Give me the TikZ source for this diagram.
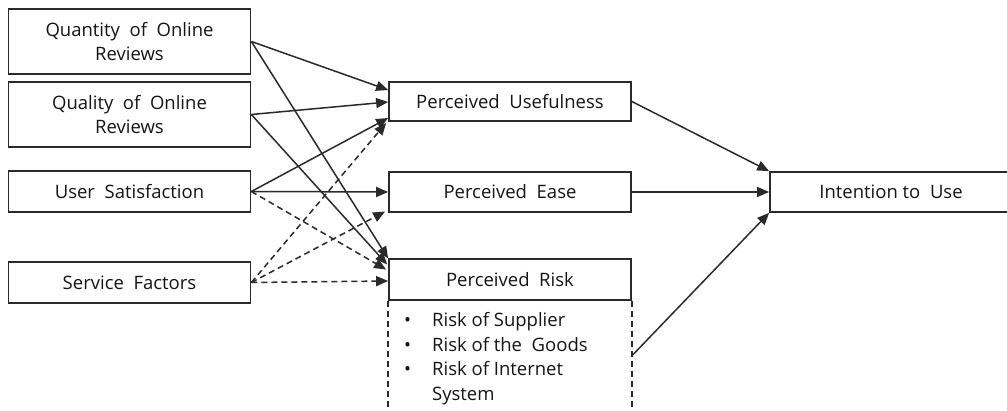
\documentclass[tikz,border=0pt]{standalone}
\usepackage{fontspec}
\setmainfont{Open Sans}
\usetikzlibrary{arrows.meta,calc}
\definecolor{ink}{HTML}{141414}
\definecolor{edge}{HTML}{2A2A2A}
\begin{document}
\begin{tikzpicture}[x=1pt,y=-1pt,
  font=\fontsize{18.5}{24.5}\selectfont, text=ink,
  box/.style={draw=edge, line width=1.7pt, rectangle, inner sep=0pt, align=center,
              minimum width=242pt},
  arr/.style={draw=edge, line width=1.5pt, -{Triangle[length=12pt,width=10pt]}},
  darr/.style={arr, dash pattern=on 6pt off 4pt},
  frame/.style={draw=edge, line width=1.5pt, dash pattern=on 6pt off 4pt}]
\useasboundingbox (0,0) rectangle (1007,411);

% antecedents
\node[box, minimum height=65pt] (qn) at (129.5,41.5) {Quantity\ \ of\ \ Online\\Reviews};
\node[box, minimum height=65pt] (ql) at (129.5,114.5) {Quality\ \ of\ \ Online\\Reviews};
\node[box, minimum height=41pt] (us) at (129.5,191.5) {User\ \ Satisfaction};
\node[box, minimum height=41pt] (sf) at (129.5,282.5) {Service\ \ Factors};

% perceptions
\node[box, minimum height=39pt] (pu) at (510,101.5) {Perceived\ \ Usefulness};
\node[box, minimum height=40pt] (pe) at (510,192) {Perceived\ \ Ease};
\node[box, minimum height=41pt] (pr) at (510,279.5) {Perceived\ \ Risk};

% outcome
\node[box, minimum height=40pt] (iu) at (891,192) {Intention to\ \ Use};

% open frame below Perceived Risk
\coordinate (fb) at (0,416);
\draw[frame] (pr.south west) -- (pr.south west |- fb);
\draw[frame] (pr.south east) -- (pr.south east |- fb);
\node[anchor=base west, inner sep=0pt] (rl) at (404,327)
  {\begin{tabular}[t]{@{}l@{\hspace{21pt}}l@{}}
   \textbullet & Risk of Supplier\\
   \textbullet & Risk of the\ \ Goods\\
   \textbullet & Risk of Internet\\
               & System
   \end{tabular}};
\coordinate (prx) at ($(pr.south east)+(0,55)$);

% paths to Perceived Usefulness
\draw[arr]  (qn.east) -- ($(pu.west)+(0,-11.5)$);
\draw[arr]  (ql.east) -- ($(pu.west)+(0,0.5)$);
\draw[arr]  (us.east) -- ($(pu.west)+(0,16.5)$);
\draw[darr] (sf.east) -- ($(pu.west)+(-2,21.5)$);

% paths to Perceived Ease
\draw[arr]  (us.east) -- (pe.west);
\draw[darr] (sf.east) -- ($(pe.west)+(-3,19.5)$);

% paths to Perceived Risk
\draw[arr]  (qn.east) -- ($(pr.west)+(0,-21)$);
\draw[arr]  (ql.east) -- ($(pr.west)+(-1,-15)$);
\draw[darr] (us.east) -- ($(pr.west)+(-2,-10)$);
\draw[darr] (sf.east) -- ($(pr.west)+(0,1.5)$);

% paths to Intention to Use
\draw[arr] (pu.east) -- (iu.north west);
\draw[arr] (pe.east) -- (iu.west);
\draw[arr] (prx) -- (iu.south west);
\end{tikzpicture}
\end{document}
